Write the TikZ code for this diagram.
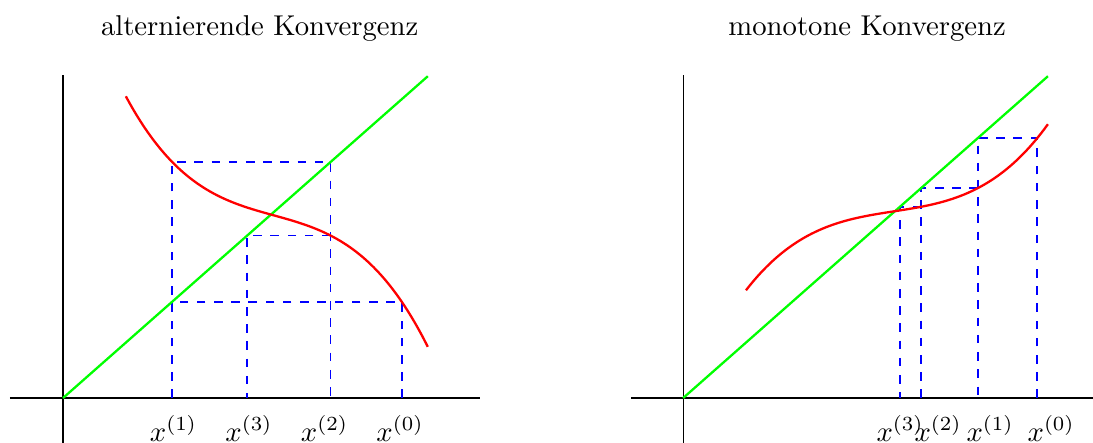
\documentclass[tikz,border=0pt]{standalone}
\usepackage{amsmath}
\usepackage{tikz}
\usetikzlibrary{positioning, calc}

\begin{document}
\begin{tikzpicture}[
    every node/.style={align=center},
    axis/.style={black, thin},
    diag/.style={green, thick},
    func/.style={red, thick},
    iter/.style={draw=blue, dashed, line width=0.6pt},
    xlabel/.style={anchor=base}
]
    \useasboundingbox (-0.772,-0.551) rectangle (12.62,4.877);

    % Alternierende Konvergenz
    \node[anchor=base] (titleAlt) at (2.41,4.44) {alternierende Konvergenz};
    \draw[axis] (-0.65,0) -- (5.11,0);
    \draw[axis] (0,-0.551) -- (0,3.96);

    \coordinate (altF0) at (4.15,1.18);
    \coordinate (altG0) at (1.338,1.18);
    \coordinate (altF1) at (1.338,2.892);
    \coordinate (altG1) at (3.279,2.892);
    \coordinate (altF2) at (3.279,1.99);
    \coordinate (altG2) at (2.256,1.99);

    \node[xlabel] (altX0) at (4.13,-0.53) {$x^{(0)}$};
    \node[xlabel] (altX1) at (1.354,-0.53) {$x^{(1)}$};
    \node[xlabel] (altX2) at (3.205,-0.53) {$x^{(2)}$};
    \node[xlabel] (altX3) at (2.279,-0.53) {$x^{(3)}$};

    \draw[iter] (altF0 |- 0,0) -- (altF0) -- (altG0);
    \draw[iter] (altF1 |- 0,0) -- (altF1) -- (altG1) -- (altG1 |- 0,0);
    \draw[iter] (altF2) -- (altG2) -- (altG2 |- 0,0);

    \draw[diag] (0,0) -- (4.47,3.943);
    \draw[func] plot[domain=0.77:4.47, samples=80, smooth]
        (\x, {2.25 - 0.2775*(\x-2.54) + 0.0194*(\x-2.54)*(\x-2.54)
              - 0.1614*(\x-2.54)*(\x-2.54)*(\x-2.54)});

    % Monotone Konvergenz
    \begin{scope}[xshift=7.598cm]
        \node[anchor=base] (titleMon) at (2.255,4.44) {monotone Konvergenz};
        \draw[axis] (-0.637,0) -- (5.03,0);
        \draw[axis] (0,-0.551) -- (0,3.96);

        \coordinate (monF0) at (4.34,3.186);
        \coordinate (monG0) at (3.612,3.186);
        \coordinate (monF1) at (3.612,2.572);
        \coordinate (monG1) at (2.916,2.572);
        \coordinate (monF2) at (2.916,2.343);
        \coordinate (monG2) at (2.657,2.343);

        \node[xlabel] (monX0) at (4.51,-0.53) {$x^{(0)}$};
        \node[xlabel] (monX1) at (3.762,-0.53) {$x^{(1)}$};
        \node[xlabel] (monX2) at (3.125,-0.53) {$x^{(2)}$};
        \node[xlabel] (monX3) at (2.659,-0.53) {$x^{(3)}$};

        \draw[iter] (monF0 |- 0,0) -- (monF0) -- (monG0) -- (monG0 |- 0,0);
        \draw[iter] (monF1) -- (monG1) -- (monG1 |- 0,0);
        \draw[iter] (monF2) -- (monG2) -- (monG2 |- 0,0);

        \draw[diag] (0,0) -- (4.47,3.943);
        \draw[func] plot[domain=0.77:4.47, samples=80, smooth]
            (\x, {2.29 + 0.15458*(\x-2.6) + 0.00614*(\x-2.6)*(\x-2.6)
                  + 0.11549*(\x-2.6)*(\x-2.6)*(\x-2.6)});
    \end{scope}
\end{tikzpicture}
\end{document}
